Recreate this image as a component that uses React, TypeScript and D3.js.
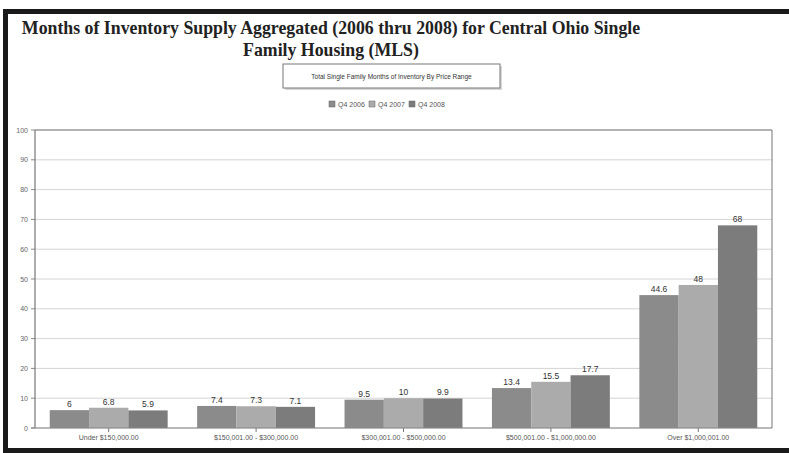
import React from "react";
import * as d3 from "d3";

const categories = [
  "Under $150,000.00",
  "$150,001.00 - $300,000.00",
  "$300,001.00 - $500,000.00",
  "$500,001.00 - $1,000,000.00",
  "Over $1,000,001.00",
];
const seriesNames = ["Q4 2006", "Q4 2007", "Q4 2008"];
const q42006 = [6, 7.4, 9.5, 13.4, 44.6];
const q42007 = [6.8, 7.3, 10, 15.5, 48];
const q42008 = [5.9, 7.1, 9.9, 17.7, 68];
const yTicks = [0, 10, 20, 30, 40, 50, 60, 70, 80, 90, 100];
const colors = ["#8b8b8b", "#ababab", "#7c7c7c"];

export default function App() {
  const W = 789, H = 453;
  const left = 35, right = 772, top = 130, bottom = 428;
  const series = [q42006, q42007, q42008];
  const x0 = d3.scaleBand<string>().domain(categories).range([left, right]).paddingInner(0.2).paddingOuter(0.1);
  const x1 = d3.scaleBand<string>().domain(seriesNames).range([0, x0.bandwidth()]).padding(0);
  const y = d3.scaleLinear().domain([0, 100]).range([bottom, top]);
  const xc = d3.scaleBand<string>().domain(categories).range([left, right]);
  const small = "Liberation Sans, Arial, sans-serif";
  const serif = "Liberation Serif, Times New Roman, serif";
  return (
    <svg width={W} height={H} style={{ position: "absolute", left: 0, top: 0, background: "#fff" }}>
      <rect x={0} y={0} width={W} height={H} fill="#fff" />
      <rect x={3} y={9} width={W - 3} height={5} fill="#1a1a1a" />
      <rect x={3} y={9} width={5} height={H - 9} fill="#1a1a1a" />
      <rect x={3} y={448} width={W - 3} height={5} fill="#1a1a1a" />
      <text x={331} y={34} textAnchor="middle" fontFamily={serif} fontWeight="bold" fontSize={17.8} fill="#222">
        Months of Inventory Supply Aggregated (2006 thru 2008) for Central Ohio Single
      </text>
      <text x={331} y={56} textAnchor="middle" fontFamily={serif} fontWeight="bold" fontSize={17.8} fill="#222">
        Family Housing (MLS)
      </text>
      <rect x={285} y={66} width={217} height={24} fill="#d8d8d8" />
      <rect x={283} y={64} width={217} height={24} fill="#fff" stroke="#777" strokeWidth={1} />
      <text x={391.5} y={79} textAnchor="middle" fontFamily={small} fontSize={6.5} fill="#333">
        Total Single Family Months of Inventory By Price Range
      </text>
      {seriesNames.map((s, i) => {
        const lx = [329, 369, 409][i];
        return (
          <g key={s}>
            <rect x={lx} y={101} width={6} height={6} fill={colors[i]} stroke="#666" strokeWidth={0.5} />
            <text x={lx + 9} y={107} fontFamily={small} fontSize={7} fill="#555">{s}</text>
          </g>
        );
      })}
      {yTicks.map((t) => (
        <g key={t}>
          <line x1={left} x2={right} y1={y(t)} y2={y(t)} stroke={t === 100 ? "#666" : "#d4d4d4"} strokeWidth={t === 100 ? 1.2 : 1} />
          <line x1={left - 4} x2={left} y1={y(t)} y2={y(t)} stroke="#888" />
          <text x={left - 7} y={y(t) + 2.5} textAnchor="end" fontFamily={small} fontSize={7} fill="#666">{t}</text>
        </g>
      ))}
      {categories.map((c, ci) => (
        <g key={c}>
          {series.map((vals, si) => {
            const bx = (x0(c) as number) + (x1(seriesNames[si]) as number);
            const bw = x1.bandwidth();
            return (
              <g key={si}>
                <rect x={bx} y={y(vals[ci])} width={bw} height={bottom - y(vals[ci])} fill={colors[si]} />
                <text x={bx + bw / 2} y={y(vals[ci]) - 3} textAnchor="middle" fontFamily={small} fontSize={8.5} fill="#333">{vals[ci]}</text>
              </g>
            );
          })}
          <line x1={(xc(c) as number) + xc.bandwidth() / 2} x2={(xc(c) as number) + xc.bandwidth() / 2} y1={bottom} y2={bottom + 4} stroke="#777" />
          <text x={(xc(c) as number) + xc.bandwidth() / 2} y={bottom + 12} textAnchor="middle" fontFamily={small} fontSize={7} fill="#555">{c}</text>
        </g>
      ))}
      <line x1={left} x2={left} y1={top} y2={bottom} stroke="#777" strokeWidth={1.2} />
      <line x1={left - 4} x2={right} y1={bottom} y2={bottom} stroke="#888" strokeWidth={1} />
      <line x1={right} x2={right} y1={top} y2={bottom} stroke="#777" strokeWidth={1} />
    </svg>
  );
}
